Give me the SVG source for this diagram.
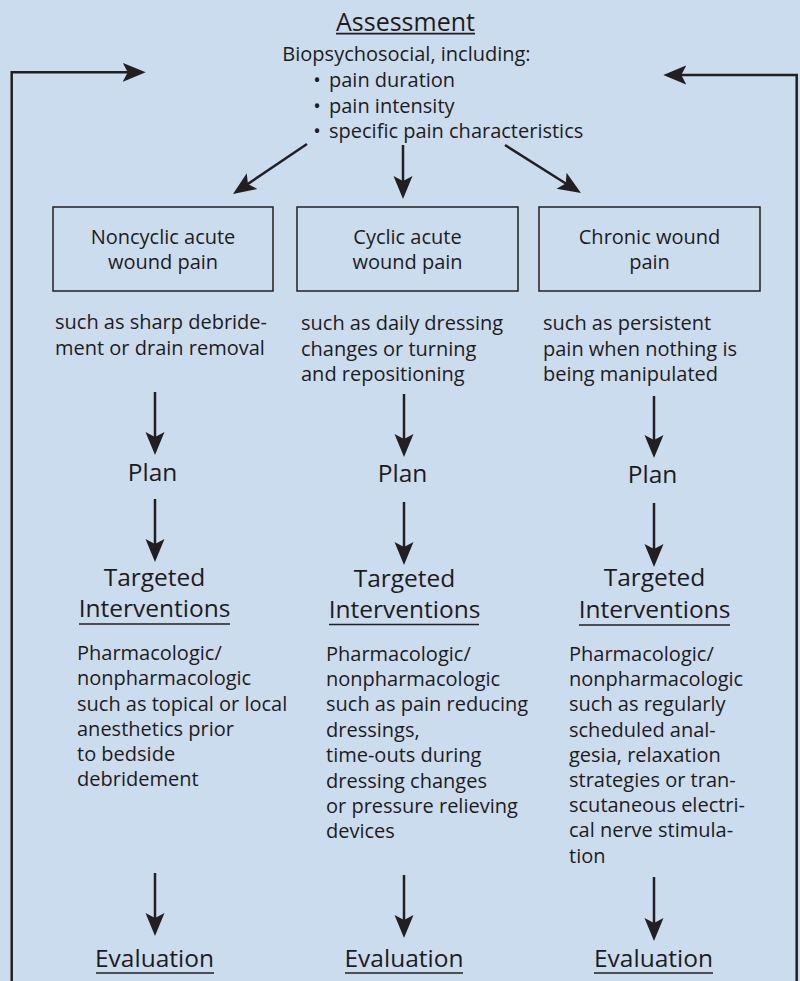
<svg xmlns="http://www.w3.org/2000/svg" width="800" height="981" viewBox="0 0 800 981">
<style>
text{font-family:"Open Sans","Noto Sans","Liberation Sans",sans-serif;fill:#1f1b1c;font-size:20px;font-weight:500}
.h{font-size:24.5px}
.t{font-size:25px}
.c{text-anchor:middle}
.ul{stroke:#231f20;stroke-width:1.6}
.box{fill:none;stroke:#231f20;stroke-width:1.5}
.ln{fill:none;stroke:#231f20;stroke-width:2.5}
.ar{marker-end:url(#ah)}
</style>
<defs>
<marker id="ah" markerUnits="userSpaceOnUse" markerWidth="25" markerHeight="22" viewBox="0 -11 25 22" refX="13" refY="0" orient="auto">
<path d="M23,0 L0,-9.5 L5,0 L0,9.5 Z" fill="#231f20"/>
</marker>
</defs>
<rect width="800" height="981" fill="#ccdcef"/>

<g id="assessment">
<text class="t c" x="405.5" y="30.5">Assessment</text>
<line class="ul" x1="336" y1="33.6" x2="475" y2="33.6"/>
<text class="c" x="406.5" y="61">Biopsychosocial, including:</text>
<text class="c" x="317" y="87">•</text><text x="329" y="87">pain duration</text>
<text class="c" x="317" y="112.5">•</text><text x="329" y="112.5">pain intensity</text>
<text class="c" x="317" y="138">•</text><text x="329" y="138">specific pain characteristics</text>
</g>

<g id="box1">
<rect class="box" x="53" y="207" width="220" height="84"/>
<text class="c" x="163" y="244">Noncyclic acute</text>
<text class="c" x="163" y="269">wound pain</text>
</g>
<g id="box2">
<rect class="box" x="297" y="207" width="221" height="84"/>
<text class="c" x="407.5" y="244">Cyclic acute</text>
<text class="c" x="407.5" y="269">wound pain</text>
</g>
<g id="box3">
<rect class="box" x="539" y="207" width="221" height="84"/>
<text class="c" x="649.5" y="244">Chronic wound</text>
<text class="c" x="649.5" y="269">pain</text>
</g>

<g id="desc1">
<text x="55" y="329">such as sharp debride-</text>
<text x="55" y="355">ment or drain removal</text>
</g>
<g id="desc2">
<text x="301" y="330">such as daily dressing</text>
<text x="301" y="356">changes or turning</text>
<text x="301" y="381">and repositioning</text>
</g>
<g id="desc3">
<text x="543" y="330">such as persistent</text>
<text x="543" y="356">pain when nothing is</text>
<text x="543" y="381">being manipulated</text>
</g>

<g id="plan1"><text class="h c" x="152.5" y="481">Plan</text></g>
<g id="plan2"><text class="h c" x="402.5" y="482">Plan</text></g>
<g id="plan3"><text class="h c" x="652.5" y="483">Plan</text></g>

<g id="interv1">
<text class="h c" x="154.5" y="586">Targeted</text>
<text class="h c" x="154.5" y="617">Interventions</text>
<line class="ul" x1="79" y1="624" x2="230" y2="624"/>
<text x="77" y="660">Pharmacologic/</text>
<text x="77" y="685">nonpharmacologic</text>
<text x="77" y="711">such as topical or local</text>
<text x="77" y="736">anesthetics prior</text>
<text x="77" y="761">to bedside</text>
<text x="77" y="786">debridement</text>
</g>
<g id="interv2">
<text class="h c" x="404.5" y="587">Targeted</text>
<text class="h c" x="404.5" y="618">Interventions</text>
<line class="ul" x1="329" y1="624.5" x2="479" y2="624.5"/>
<text x="326" y="661">Pharmacologic/</text>
<text x="326" y="686">nonpharmacologic</text>
<text x="326" y="711">such as pain reducing</text>
<text x="326" y="737">dressings,</text>
<text x="326" y="762">time-outs during</text>
<text x="326" y="788">dressing changes</text>
<text x="326" y="813">or pressure relieving</text>
<text x="326" y="838">devices</text>
</g>
<g id="interv3">
<text class="h c" x="654.5" y="586">Targeted</text>
<text class="h c" x="654.5" y="618">Interventions</text>
<line class="ul" x1="579" y1="625" x2="730" y2="625"/>
<text x="569" y="661">Pharmacologic/</text>
<text x="569" y="686">nonpharmacologic</text>
<text x="569" y="711">such as regularly</text>
<text x="569" y="737">scheduled anal-</text>
<text x="569" y="762">gesia, relaxation</text>
<text x="569" y="787">strategies or tran-</text>
<text x="569" y="812">scutaneous electri-</text>
<text x="569" y="837">cal nerve stimula-</text>
<text x="569" y="863">tion</text>
</g>

<g id="eval1">
<text class="h c" x="154.5" y="967">Evaluation</text>
<line class="ul" x1="96" y1="973" x2="214" y2="973"/>
</g>
<g id="eval2">
<text class="h c" x="404" y="967">Evaluation</text>
<line class="ul" x1="345" y1="973" x2="463" y2="973"/>
</g>
<g id="eval3">
<text class="h c" x="653.5" y="967">Evaluation</text>
<line class="ul" x1="594" y1="973" x2="713" y2="973"/>
</g>

<g id="connectors">
<path class="ln ar" d="M11.7,981 V72.3 H135.7"/>
<path class="ln ar" d="M796.7,981 V75 H673.3"/>
<path class="ln ar" d="M307,144 L241.3,188.4"/>
<path class="ln ar" d="M403,145 V189"/>
<path class="ln ar" d="M505,145 L572.5,187.7"/>
<path class="ln ar" d="M155,392 V445"/>
<path class="ln ar" d="M155,499 V552"/>
<path class="ln ar" d="M155,873 V926"/>
<path class="ln ar" d="M404,394 V447"/>
<path class="ln ar" d="M404,502 V555"/>
<path class="ln ar" d="M404,875 V928"/>
<path class="ln ar" d="M654,396 V448"/>
<path class="ln ar" d="M654,503 V557"/>
<path class="ln ar" d="M654,877 V931"/>
</g>
</svg>
